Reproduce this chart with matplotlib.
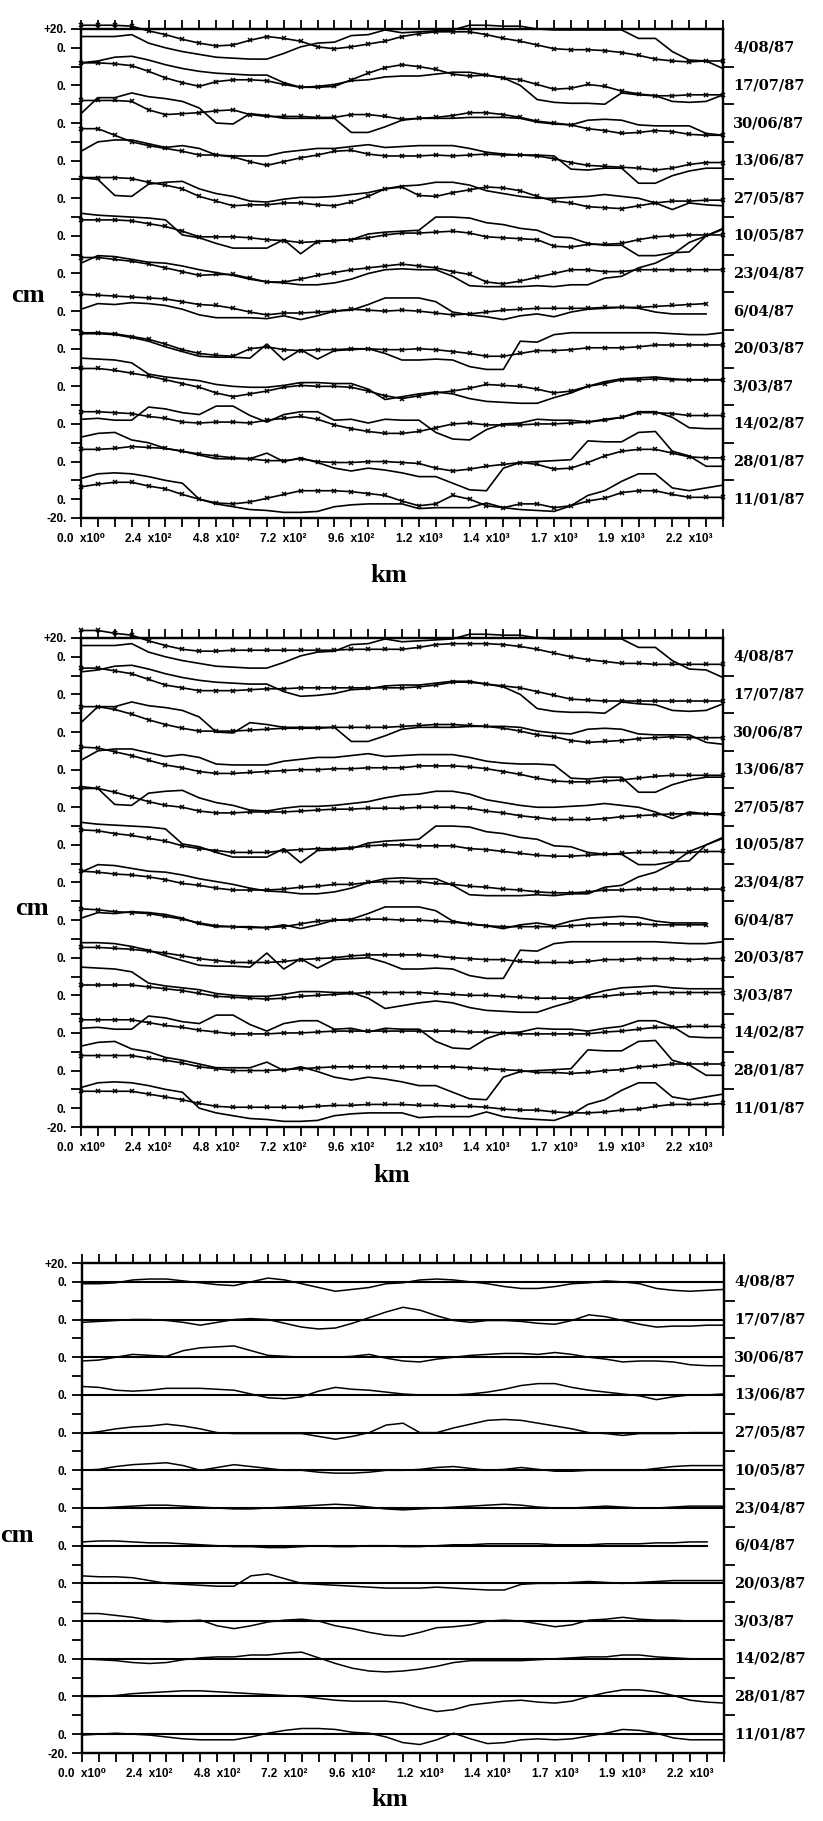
import numpy as np
import matplotlib
matplotlib.use('Agg')
import matplotlib.pyplot as plt

plt.rcParams['font.family'] = ['Liberation Sans', 'DejaVu Sans']

# profile dates, top to bottom
dates = ['4/08/87', '17/07/87', '30/06/87', '13/06/87', '27/05/87', '10/05/87',
         '23/04/87', '6/04/87', '20/03/87', '3/03/87', '14/02/87', '28/01/87', '11/01/87']

# along-track distance of the samples (km)
km = np.arange(0, 2281, 60)
xtick_text = ['0.0  x10⁰', '2.4  x10²', '4.8  x10²', '7.2  x10²', '9.6  x10²',
              '1.2  x10³', '1.4  x10³', '1.7  x10³', '1.9  x10³', '2.2  x10³']

# measured profiles (cm), one row per date
raw = [
    [12, 12, 12, 14, 5, 0, -4, -7, -10, -11, -12, -12, -6, 1, 5, 6, 13, 14, 19, 16, 17, 18, 19, 24, 24, 23, 23, 20, 19, 19, 19, 19, 19, 10, 10, -4, -13, -14, -22],
    [24, 26, 30, 31, 27, 22, 18, 15, 13, 12, 11, 11, 3, -2, -1, 1, 5, 6, 9, 10, 10, 12, 14, 14, 11, 8, 0, -15, -18, -19, -19, -20, -8, -10, -11, -17, -18, -17, -10],
    [10, 27, 27, 32, 28, 26, 23, 16, 0, -1, 10, 8, 5, 5, 5, 5, -10, -10, -4, 3, 5, 5, 5, 6, 6, 6, 5, 1, -1, -2, 3, 4, 3, -2, -3, -3, -3, -11, -13],
    [10, 20, 22, 22, 18, 14, 16, 13, 6, 5, 5, 5, 9, 11, 13, 13, 15, 17, 14, 15, 16, 16, 16, 13, 9, 7, 6, 6, 5, -9, -10, -8, -8, -24, -24, -16, -11, -8, -8],
    [22, 20, 3, 2, 15, 17, 18, 10, 5, 2, -3, -4, -1, 1, 1, 2, 4, 6, 10, 13, 14, 17, 17, 14, 8, 5, 2, 0, 0, 1, 2, 4, 2, 0, -5, -12, -5, -7, -8],
    [24, 22, 21, 20, 19, 17, 1, -2, -8, -13, -13, -13, -4, -19, -6, -5, -4, 2, 4, 5, 6, 20, 20, 19, 14, 12, 8, 6, -1, -2, -8, -10, -10, -21, -21, -18, -17, 0, 7],
    [11, 19, 18, 15, 12, 11, 8, 4, 1, -2, -6, -9, -10, -12, -12, -10, -6, 0, 4, 5, 4, 4, -3, -13, -14, -14, -14, -13, -14, -12, -12, -5, -3, 6, 11, 20, 33, 40, 48],
    [2, 8, 7, 9, 8, 6, 2, -4, -7, -7, -7, -8, -5, -9, -5, 0, 1, 7, 14, 14, 14, 10, -1, -4, -6, -9, -5, -3, -6, -1, 2, 3, 4, 3, -1, -3, -3, -3],
    [16, 16, 15, 12, 8, 2, -3, -8, -9, -9, -10, 5, -12, -1, -11, -2, -1, 0, -5, -12, -12, -11, -12, -19, -22, -22, 8, 7, 15, 17, 17, 17, 17, 17, 17, 16, 15, 15, 17],
    [30, 29, 28, 25, 13, 10, 8, 6, 2, 0, -1, -1, 1, 4, 4, 3, 3, -3, -14, -11, -8, -6, -8, -13, -16, -17, -18, -18, -12, -7, 0, 5, 8, 9, 10, 8, 7, 7, 7],
    [5, 6, 4, 4, 18, 16, 12, 10, 19, 19, 9, 2, 10, 13, 13, 4, 5, 1, 5, 4, 4, -9, -16, -17, -6, 0, 1, 5, 4, 4, 2, 5, 7, 13, 13, 7, -4, -5, -5],
    [26, 30, 31, 23, 20, 14, 11, 7, 3, 3, 3, 9, 0, 4, -1, -7, -10, -7, -9, -12, -16, -16, -23, -30, -31, -7, -1, 0, 1, 2, 22, 21, 21, 31, 32, 11, 6, -5, -5],
    [22, 27, 28, 27, 24, 20, 17, 0, -5, -8, -11, -12, -14, -14, -13, -8, -6, -5, -5, -5, -10, -9, -9, -9, -4, -9, -11, -12, -13, -7, 4, 9, 19, 27, 27, 12, 9, 12, 15],
]

# smoothed profiles, top panel (cm)
fit_top = [
    [24, 24, 24, 23, 18, 14, 9, 5, 2, 3, 8, 12, 10, 7, 1, -1, 1, 4, 7, 12, 15, 17, 17, 17, 14, 10, 7, 3, -1, -2, -2, -3, -5, -8, -12, -14, -15, -14, -14],
    [24, 24, 23, 21, 15, 8, 3, -1, 4, 6, 6, 5, 1, -2, -2, -1, 6, 13, 19, 22, 20, 17, 12, 10, 11, 8, 6, 1, -4, -3, 1, -1, -6, -9, -11, -11, -10, -10, -10],
    [24, 24, 24, 23, 14, 9, 10, 11, 13, 14, 9, 7, 7, 7, 6, 6, 9, 9, 7, 4, 5, 6, 8, 11, 11, 9, 6, 2, 0, -2, -6, -8, -11, -10, -8, -9, -12, -13, -13],
    [34, 34, 27, 20, 16, 13, 10, 6, 6, 4, -1, -5, -1, 3, 6, 10, 11, 7, 5, 5, 5, 6, 5, 6, 7, 6, 6, 5, 2, -2, -5, -6, -7, -8, -10, -8, -4, -2, -2],
    [22, 22, 22, 21, 17, 14, 10, 2, -3, -8, -7, -7, -5, -5, -7, -8, -4, 2, 10, 12, 3, 2, 6, 9, 12, 11, 8, 2, -3, -5, -9, -10, -11, -8, -5, -3, -3, -2, -2],
    [17, 17, 17, 16, 13, 10, 5, -1, -1, -1, -2, -4, -5, -7, -6, -5, -4, -2, 1, 3, 3, 4, 5, 3, -1, -2, -3, -4, -11, -12, -9, -9, -8, -4, -1, 0, 1, 1, 1],
    [17, 17, 15, 13, 10, 6, 2, -2, -1, -1, -5, -9, -9, -6, -2, 1, 4, 6, 8, 10, 8, 6, 2, -1, -9, -11, -8, -4, 0, 4, 4, 2, 2, 4, 4, 4, 4, 4, 4],
    [18, 17, 16, 15, 14, 13, 10, 7, 6, 3, -1, -4, -2, -2, -1, 0, 2, 1, 0, 1, 0, -2, -4, -3, -1, 1, 2, 3, 3, 3, 3, 4, 4, 4, 5, 6, 7, 8],
    [17, 17, 16, 13, 10, 5, -1, -5, -7, -8, 0, 2, -1, -2, -1, -1, 0, 0, -1, -1, 0, -1, -3, -5, -8, -8, -5, -2, -2, -1, 1, 1, 1, 2, 4, 4, 4, 4, 4],
    [19, 19, 17, 14, 11, 7, 3, -1, -7, -11, -8, -5, -1, 1, 0, 0, -1, -5, -10, -13, -10, -7, -5, -2, 2, 1, 0, -3, -7, -5, 0, 3, 7, 7, 8, 7, 7, 7, 7],
    [13, 13, 12, 11, 8, 6, 2, 1, 2, 2, 1, 4, 6, 8, 5, -1, -5, -8, -10, -10, -8, -4, 0, 1, -1, -1, -1, 0, 0, 1, 2, 4, 7, 12, 12, 11, 9, 9, 9],
    [13, 13, 14, 16, 15, 14, 11, 8, 6, 4, 3, 1, 1, 3, 0, -1, -1, 0, 0, -1, -2, -7, -10, -8, -5, -3, -1, -3, -8, -7, -1, 6, 11, 13, 13, 9, 5, 4, 4],
    [13, 16, 18, 18, 14, 11, 5, 0, -4, -5, -3, 1, 5, 9, 9, 9, 8, 6, 4, -2, -7, -5, 4, 0, -7, -9, -5, -5, -9, -7, -2, 1, 7, 9, 9, 5, 2, 2, 2],
]

# smoothed profiles, middle panel (cm)
fit_mid = [
    [28, 28, 25, 23, 17, 12, 8, 6, 6, 7, 7, 7, 7, 7, 7, 7, 8, 8, 8, 8, 10, 13, 14, 14, 14, 13, 11, 8, 4, 0, -3, -5, -7, -7, -8, -8, -8, -8, -8],
    [28, 28, 25, 22, 16, 10, 7, 4, 4, 4, 5, 6, 6, 7, 7, 7, 7, 7, 7, 7, 8, 10, 13, 13, 11, 9, 7, 3, -1, -5, -6, -7, -7, -7, -7, -7, -7, -7, -7],
    [27, 27, 24, 19, 13, 8, 4, 1, 1, 1, 2, 3, 4, 4, 4, 5, 5, 5, 5, 6, 7, 8, 8, 7, 6, 4, 1, -3, -5, -9, -11, -10, -9, -7, -6, -5, -6, -6, -6],
    [24, 23, 19, 15, 10, 5, 2, -2, -4, -4, -3, -2, -1, 0, 0, 1, 1, 2, 2, 2, 4, 4, 4, 3, 1, -2, -5, -9, -12, -13, -13, -12, -11, -9, -7, -6, -6, -6, -6],
    [20, 20, 16, 11, 6, 2, 0, -4, -6, -6, -5, -5, -5, -4, -3, -2, -2, -1, -1, -1, 0, 0, 0, -1, -4, -6, -9, -11, -13, -13, -13, -12, -10, -9, -8, -7, -7, -7, -7],
    [16, 15, 12, 10, 7, 4, -1, -4, -6, -8, -8, -8, -6, -5, -4, -4, -3, -1, 0, 0, -1, -1, -1, -4, -5, -7, -9, -11, -12, -12, -11, -10, -9, -8, -8, -8, -8, -7, -7],
    [12, 11, 9, 8, 6, 3, -1, -3, -6, -8, -8, -8, -7, -5, -4, -2, -2, 0, 1, 1, 1, -1, -2, -4, -5, -7, -8, -10, -11, -11, -10, -8, -8, -7, -7, -7, -7, -7, -7],
    [12, 11, 9, 8, 7, 4, 1, -3, -6, -7, -8, -8, -7, -4, -1, 0, 0, 1, 1, 0, 0, -1, -2, -4, -6, -7, -7, -7, -7, -6, -5, -4, -4, -4, -5, -5, -5, -5],
    [11, 11, 10, 9, 7, 5, 2, -1, -3, -5, -5, -5, -4, -2, -1, 0, 2, 3, 3, 3, 3, 2, 0, -1, -2, -2, -4, -5, -5, -5, -4, -2, -2, -1, -1, -1, -2, -1, -1],
    [11, 11, 11, 11, 9, 7, 5, 2, -1, -2, -3, -4, -3, -1, 0, 1, 2, 3, 3, 3, 3, 2, 1, 0, 0, -1, -2, -3, -3, -3, -2, -1, 1, 2, 3, 3, 3, 3, 3],
    [14, 14, 14, 14, 11, 8, 6, 3, 1, -1, -1, -1, 0, 0, 1, 2, 2, 2, 2, 2, 2, 2, 2, 1, 1, 0, -1, -1, -1, -1, -1, 1, 2, 4, 6, 6, 7, 7, 7],
    [16, 16, 16, 16, 13, 11, 8, 4, 2, 0, 0, 0, 1, 2, 3, 4, 4, 4, 4, 4, 4, 4, 4, 3, 2, 1, 0, -2, -2, -3, -2, 0, 1, 4, 5, 7, 7, 7, 7],
    [18, 18, 18, 18, 15, 12, 9, 5, 2, 1, 1, 1, 1, 1, 2, 3, 3, 4, 4, 4, 3, 3, 2, 2, 1, -1, -2, -2, -4, -5, -5, -4, -2, -1, 2, 4, 4, 4, 5],
]

# residuals, bottom panel (cm)
resid = [
    [-2, -2, -1, 2, 3, 3, 1, -1, -3, -4, 0, 4, 2, -2, -6, -10, -8, -6, -2, -1, 2, 3, 2, 0, -2, -5, -7, -7, -5, -2, -1, 1, 0, -2, -7, -9, -10, -9, -8],
    [-3, -2, -1, 0, 0, -1, -3, -6, -3, 0, 1, 0, -4, -8, -10, -9, -4, 2, 8, 13, 10, 4, -1, -3, -1, -1, -2, -4, -5, -1, 5, 3, -1, -5, -8, -7, -7, -6, -6],
    [-4, -3, 0, 3, 2, 1, 7, 10, 11, 12, 7, 2, 1, 0, 0, 0, 1, 3, -1, -4, -5, -2, 0, 2, 3, 4, 4, 3, 5, 3, 0, -2, -5, -4, -4, -5, -8, -9, -9],
    [9, 8, 5, 4, 5, 7, 7, 7, 6, 5, 1, -3, -4, -2, 4, 8, 6, 5, 3, 1, 0, 0, 0, 1, 3, 6, 10, 12, 12, 8, 5, 3, 1, -1, -5, -2, 0, 0, 1],
    [-1, 1, 4, 6, 7, 9, 7, 4, 0, -1, -1, -1, -1, -1, -4, -7, -4, 0, 8, 10, 0, 0, 5, 9, 13, 14, 13, 10, 7, 4, 0, -1, -3, -1, -1, -1, 0, 0, 0],
    [0, 1, 4, 6, 7, 8, 5, 0, 3, 6, 4, 2, 0, 0, -2, -3, -3, -2, 0, 0, 1, 3, 4, 2, 0, 1, 3, 1, -1, -1, 0, 0, 0, 0, 2, 4, 5, 5, 5],
    [0, 0, 1, 2, 3, 3, 2, 1, 0, -1, -1, 0, 1, 2, 3, 4, 3, 1, -1, -2, -1, 0, 1, 2, 3, 4, 3, 1, 0, 0, 1, 2, 1, 0, 0, 1, 2, 2, 2],
    [4, 5, 5, 4, 3, 3, 2, 1, 0, -1, -1, -2, -2, -1, 0, -1, -1, 0, 0, -1, -1, 0, 1, 1, 2, 2, 2, 2, 1, 1, 1, 2, 2, 2, 3, 3, 4, 4],
    [8, 7, 7, 6, 3, 0, -1, -2, -3, -3, 8, 10, 5, 0, -1, -2, -3, -4, -5, -5, -5, -4, -5, -6, -7, -7, -1, 0, 0, 1, 2, 1, 0, 1, 2, 3, 3, 3, 3],
    [8, 8, 6, 4, 1, -1, 0, 1, -5, -8, -5, -1, 1, 2, 0, -5, -8, -12, -15, -16, -12, -7, -6, -4, 0, 1, 0, -3, -6, -4, 1, 2, 4, 2, 1, 1, 0, 0, 0],
    [0, -1, -2, -4, -5, -4, -1, 1, 2, 2, 4, 4, 6, 7, 1, -5, -10, -13, -14, -13, -11, -8, -4, -2, -2, -2, -2, -1, 0, 1, 2, 2, 4, 4, 2, 1, 0, 0, 0],
    [0, 0, 1, 3, 4, 5, 6, 6, 5, 4, 3, 2, 1, 0, -2, -4, -5, -5, -5, -7, -12, -16, -14, -9, -7, -5, -4, -6, -7, -5, 0, 4, 7, 7, 5, 1, -4, -6, -7],
    [-1, 0, 1, 0, -1, -3, -5, -6, -6, -6, -3, 1, 4, 6, 6, 5, 2, 1, -3, -9, -11, -6, 1, -5, -10, -9, -6, -5, -6, -5, -2, 1, 5, 4, 1, -4, -6, -6, -6],
]

W, H = 823, 1821
STEP = 40  # vertical spacing between stacked profiles (cm)
NP = len(dates)
TOP = STEP * (NP - 1) + 20


def px_rect(left, right, top, bottom):
    return [left / W, 1 - bottom / H, (right - left) / W, (bottom - top) / H]


def ylab(v):
    if v == -20:
        return '-20.'
    if v == TOP:
        return '+20.'
    if v % STEP == 0:
        return '0.'
    return ''


def setup(ax):
    ax.set_xlim(0, km[-1])
    ax.set_ylim(-20, TOP)
    ax.set_xticks(km)
    ax.set_xticklabels([xtick_text[i // 4] if i % 4 == 0 else '' for i in range(len(km))])
    yt = np.arange(-20, TOP + 1, 20)
    ax.set_yticks(yt)
    ax.set_yticklabels([ylab(v) for v in yt])
    ax.tick_params(axis='x', top=True, bottom=True, direction='out', length=6.5,
                   width=1.3, pad=4, labelsize=8.5)
    ax.tick_params(axis='y', left=True, right=False, direction='out', length=7.5,
                   width=1.3, pad=3, labelsize=8.5)
    for t in ax.get_xticklabels() + ax.get_yticklabels():
        t.set_fontweight('bold')
    for s in ax.spines.values():
        s.set_linewidth(1.6)
    axr = ax.twinx()
    axr.set_ylim(-20, TOP)
    axr.set_yticks(np.arange(20, TOP - 20, STEP))
    axr.set_yticklabels([])
    axr.tick_params(axis='y', direction='out', length=8, width=1.3)
    for s in axr.spines.values():
        s.set_linewidth(1.6)
    for k, d in enumerate(dates):
        ax.text(1.016, STEP * (NP - 1 - k), d, transform=ax.get_yaxis_transform(),
                ha='left', va='center', fontsize=10.5, fontweight='bold',
                family='DejaVu Serif')


def label_units(fig, cm_xy, km_xy):
    fig.text(cm_xy[0] / W, 1 - cm_xy[1] / H, 'cm', ha='center', va='center',
             fontsize=19, fontweight='bold', family='Liberation Serif')
    fig.text(km_xy[0] / W, 1 - km_xy[1] / H, 'km', ha='center', va='center',
             fontsize=19, fontweight='bold', family='Liberation Serif')


def fit_panel(ax, fits):
    for k in range(NP):
        off = STEP * (NP - 1 - k)
        r = np.array(raw[k])
        f = np.array(fits[k])
        ax.plot(km[:len(r)], r + off, color='black', lw=1.2, clip_on=False)
        ax.plot(km[:len(f)], f + off, color='black', lw=1.2, marker='x',
                ms=3.2, mew=1.1, clip_on=False)
    setup(ax)


def main():
    fig = plt.figure(figsize=(W / 100, H / 100), dpi=100)

    ax1 = fig.add_axes(px_rect(81, 723, 29, 518))
    fit_panel(ax1, fit_top)
    label_units(fig, (28, 295), (389, 575))

    ax2 = fig.add_axes(px_rect(81, 723, 638, 1127))
    fit_panel(ax2, fit_mid)
    label_units(fig, (32, 908), (392, 1176))

    ax3 = fig.add_axes(px_rect(82, 724, 1263, 1753))
    for k in range(NP):
        off = STEP * (NP - 1 - k)
        r = np.array(resid[k])
        ax3.plot(km[:len(r)], np.zeros(len(r)) + off, color='black', lw=1.5)
        ax3.plot(km[:len(r)], r + off, color='black', lw=1.1)
    setup(ax3)
    label_units(fig, (17, 1535), (390, 1800))

    fig.savefig('out.png', dpi=100)
    plt.close('all')


if __name__ == '__main__':
    main()
